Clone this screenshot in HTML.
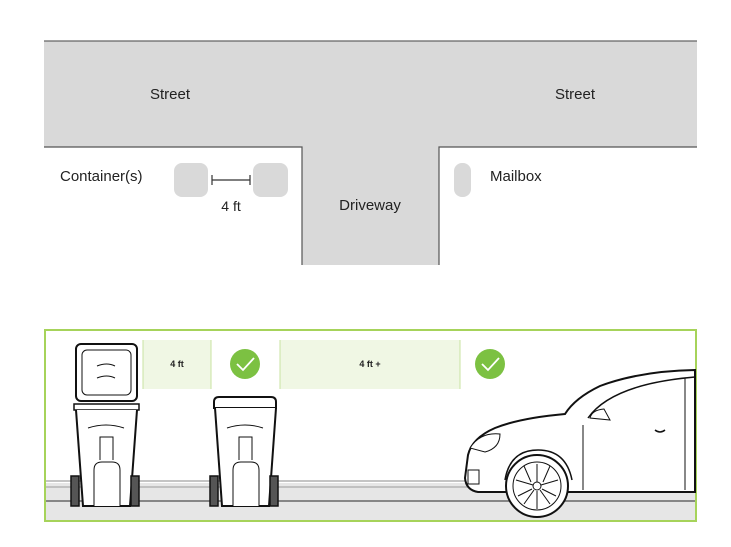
<!DOCTYPE html>
<html><head><meta charset="utf-8"><style>
body{margin:0;background:#fff;}
svg{display:block}
text{font-family:"Liberation Sans",sans-serif;fill:#222}
</style></head><body>
<svg width="731" height="547" viewBox="0 0 731 547">
<path d="M44 41 H697 V147 H439 V265 H302 V147 H44 Z" fill="#d9d9d9"/>
<line x1="44" y1="41" x2="697" y2="41" stroke="#666" stroke-width="1.2"/>
<path d="M44 147 H302 V265 M697 147 H439 V265" fill="none" stroke="#555" stroke-width="1.2"/>
<text x="170" y="99" font-size="15" text-anchor="middle">Street</text>
<text x="575" y="99" font-size="15" text-anchor="middle">Street</text>
<text x="60" y="181" font-size="15">Container(s)</text>
<text x="370" y="210" font-size="15" text-anchor="middle">Driveway</text>
<text x="490" y="181" font-size="15">Mailbox</text>
<rect x="174" y="163" width="34" height="34" rx="8" fill="#d9d9d9"/>
<rect x="253" y="163" width="35" height="34" rx="8" fill="#d9d9d9"/>
<rect x="454" y="163" width="17" height="34" rx="8" fill="#d9d9d9"/>
<path d="M212 175 V185 M212 180 H250 M250 175 V185" stroke="#333" stroke-width="1.2" fill="none"/>
<text x="231" y="211" font-size="14" text-anchor="middle">4 ft</text>

<rect x="45" y="330" width="651" height="191" fill="#fff" stroke="#a6d35a" stroke-width="2"/>
<rect x="143" y="340" width="68" height="49" fill="#f0f7e4"/>
<path d="M143 340 V389 M211 340 V389" stroke="#c9e3a2" stroke-width="1"/>
<text x="177" y="367" font-size="9" text-anchor="middle" font-weight="bold">4 ft</text>
<rect x="280" y="340" width="180" height="49" fill="#f0f7e4"/>
<path d="M280 340 V389 M460 340 V389" stroke="#c9e3a2" stroke-width="1"/>
<text x="370" y="367" font-size="9" text-anchor="middle" font-weight="bold">4 ft +</text>
<circle cx="245" cy="364" r="15" fill="#7cc142"/>
<path d="M237 364 l6 6 l11 -12" stroke="#fff" stroke-width="1.8" fill="none"/>
<circle cx="490" cy="364" r="15" fill="#7cc142"/>
<path d="M482 364 l6 6 l11 -12" stroke="#fff" stroke-width="1.8" fill="none"/>
<rect x="46" y="483" width="649" height="37" fill="#e6e6e6"/>
<line x1="46" y1="481" x2="695" y2="481" stroke="#888" stroke-width="1"/>
<line x1="46" y1="487" x2="695" y2="487" stroke="#999" stroke-width="1"/>
<line x1="46" y1="501" x2="695" y2="501" stroke="#666" stroke-width="1.5"/>
<g stroke="#111" fill="#fff" stroke-width="1.5">
<rect x="76" y="344" width="61" height="57" rx="5" stroke-width="2"/>
<rect x="82" y="350" width="49" height="45" rx="5" stroke-width="1"/>
<path d="M97 366 q10 -4 18 0 M97 378 q10 -4 18 0" fill="none" stroke-width="1"/>
<rect x="74" y="404" width="65" height="6"/>
<path d="M76 410 L83 506 H130 L137 410" stroke-width="2"/>
<path d="M88 428 q18 -6 36 0" fill="none" stroke-width="1"/>
<path d="M100 460 V437 H113 V460" stroke-width="1"/>
<path d="M94 506 V470 q0 -8 8 -8 h10 q8 0 8 8 V506" stroke-width="1"/>
<rect x="71" y="476" width="8" height="30" fill="#555"/>
<rect x="131" y="476" width="8" height="30" fill="#555"/>
</g>
<g stroke="#111" fill="#fff" stroke-width="1.5">
<path d="M214 408 V402 q0 -5 5 -5 h52 q5 0 5 5 V408 Z" stroke-width="2"/>
<path d="M215 408 L222 506 H269 L276 408" stroke-width="2"/>
<path d="M227 428 q18 -6 36 0" fill="none" stroke-width="1"/>
<path d="M239 460 V437 H252 V460" stroke-width="1"/>
<path d="M233 506 V470 q0 -8 8 -8 h10 q8 0 8 8 V506" stroke-width="1"/>
<rect x="210" y="476" width="8" height="30" fill="#555"/>
<rect x="270" y="476" width="8" height="30" fill="#555"/>
</g>
<g stroke="#111" fill="#fff" stroke-width="1.5">
<path d="M695 370 Q640 371 600 386 Q575 398 565 414 Q520 418 495 428 Q472 438 468 455 L465 478 Q466 490 478 492 L695 492 Z" stroke-width="2"/>
<path d="M588 418 Q612 384 695 377" fill="none"/>
<path d="M590 418 Q592 410 604 409 L610 420 Z" stroke-width="1"/>
<path d="M470 448 Q480 432 500 434 Q500 448 485 452 Z" stroke-width="1"/>
<rect x="468" y="470" width="11" height="14" stroke-width="1"/>
<line x1="583" y1="425" x2="583" y2="490" stroke-width="1"/>
<line x1="685" y1="378" x2="685" y2="490" stroke-width="1"/>
<path d="M655 430 q5 4 10 0" fill="none"/>
<path d="M505 480 Q510 450 538 450 Q566 450 572 480" fill="none"/>
<circle cx="537" cy="486" r="31" stroke-width="2"/>
<circle cx="537" cy="486" r="24" stroke-width="1"/>
<g stroke-width="1" fill="none">
<path d="M537 482 L537 464 M541 485 L558 480 M540 490 L550 504 M534 490 L524 504 M533 485 L516 480"/>
<path d="M543 482 L550 466 M542 489 L556 496 M537 491 L537 509 M532 489 L518 496 M531 482 L524 466"/>
</g>
<circle cx="537" cy="486" r="4" stroke-width="1"/>
</g>
</svg>
</body></html>
